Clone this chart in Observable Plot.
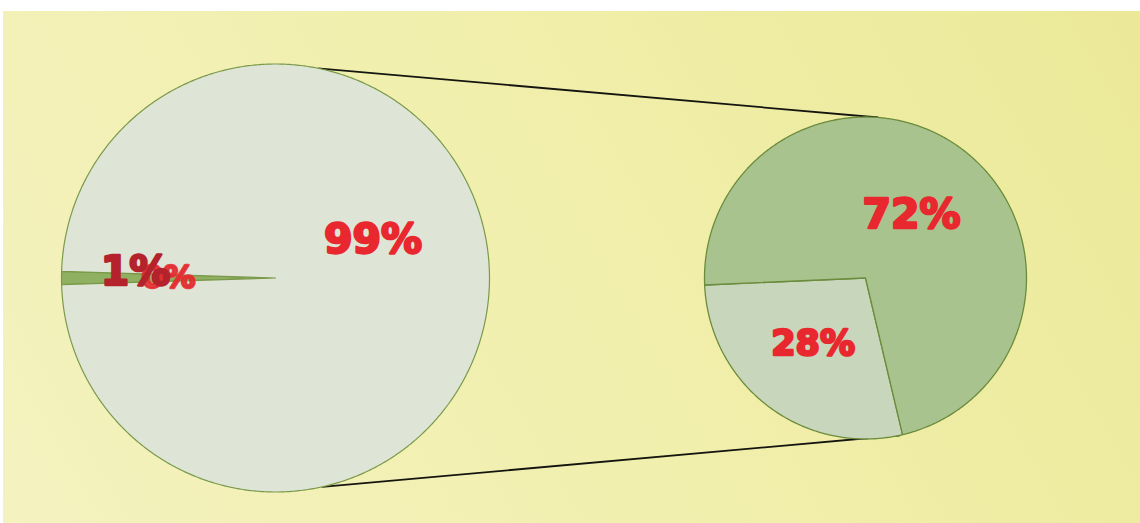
<!DOCTYPE html>
<html><head><meta charset="utf-8">
<script src="https://cdn.jsdelivr.net/npm/d3@7"></script>
<script src="https://cdn.jsdelivr.net/npm/@observablehq/plot@0.6"></script>
<style>
html,body{margin:0;padding:0;background:#fff;}
#chart svg{display:block;}
</style></head><body><div id="chart"></div>
<script>
// ---- data ----
const leftNames = ["Zero", "Small", "Rest"];
const leftValues = [0, 1, 99];
const leftLabels = ["0%", "1%", "99%"];
const rightNames = ["Part B", "Part A"];
const rightValues = [28, 72];
const rightLabels = ["28%", "72%"];

// ---- layout (positions / styles) ----
const W = 1140, H = 523;
const deg = Math.PI / 180;
const pies = {
  left: {cx: 275, cy: 277.5, r: 214, start: 268.2,
         fills: ["#8fb060", "#8fb060", "#dfe5d6"], stroke: "#7a9a4a",
         label: [{frac: 0.5, dAng: 1.8, size: 32, color: "#e52a30", op: 0.88},
                 {frac: 0.655, dAng: 2.5, size: 41, color: "#b4232b", op: 1},
                 {frac: 0.49, dAng: -21.4, size: 41, color: "#e8282e", op: 1}]},
  right: {cx: 865, cy: 277.5, r: 161, start: 166.7,
          fills: ["#c8d6bb", "#a9c38e"], stroke: "#6b8c3c",
          label: [{frac: 0.52, dAng: 1.6, size: 35, color: "#e8282e", op: 1},
                  {frac: 0.485, dAng: -1, size: 41, color: "#e8282e", op: 1}]}
};
// connector endpoints (d3 angles, clockwise from 12 o'clock)
const connectorAngles = [{l: 11.5, r: 4.6}, {l: 167.4, r: 167.6}];

const pt = (p, a, rr) => ({x: p.cx + rr * Math.sin(a * deg), y: p.cy - rr * Math.cos(a * deg)});

function build(p, names, values, labels) {
  const arcs = d3.pie().sort(null).startAngle(p.start * deg).endAngle((p.start + 360) * deg)(values);
  const poly = [], texts = [];
  arcs.forEach((a, i) => {
    const a0 = a.startAngle / deg, a1 = a.endAngle / deg;
    const mid = (a0 + a1) / 2;
    if (a1 - a0 > 0) {
      const key = names[i];
      poly.push({key, fill: p.fills[i], x: p.cx, y: p.cy});
      const n = Math.max(2, Math.ceil((a1 - a0) / 0.5));
      for (let k = 0; k <= n; k++) {
        const q = pt(p, a0 + (a1 - a0) * k / n, p.r);
        poly.push({key, fill: p.fills[i], x: q.x, y: q.y});
      }
    }
    const L = p.label[i];
    const q = pt(p, mid + L.dAng, p.r * L.frac);
    texts.push({text: labels[i], x: q.x, y: q.y, ...L});
  });
  return {poly, texts};
}

const left = build(pies.left, leftNames, leftValues, leftLabels);
const right = build(pies.right, rightNames, rightValues, rightLabels);

const connectors = connectorAngles.map(c => {
  const a = pt(pies.left, c.l, pies.left.r), b = pt(pies.right, c.r, pies.right.r);
  return {x1: a.x, y1: a.y, x2: b.x, y2: b.y};
});

const textMarks = [...left.texts, ...right.texts].map(t =>
  Plot.text([t], {x: "x", y: "y", text: "text", fill: t.color, fillOpacity: t.op,
    stroke: t.color, strokeOpacity: t.op, strokeWidth: 2.4, strokeLinejoin: "round",
    fontSize: t.size, fontWeight: "bold", fontFamily: "DejaVu Sans", textAnchor: "middle"}));

const chart = Plot.plot({
  width: W, height: H, margin: 0,
  x: {domain: [0, W], range: [0, W], axis: null},
  y: {domain: [0, H], range: [0, H], axis: null},
  color: {type: "identity"},
  style: {background: "linear-gradient(60deg, #f4f2bf 0%, #f1efac 50%, #ebe998 100%) 3px 11px / 1137px 512px no-repeat, #ffffff"},
  marks: [
    Plot.link(connectors, {x1: "x1", y1: "y1", x2: "x2", y2: "y2", stroke: "#151510", strokeWidth: 1.8}),
    Plot.line(left.poly, {x: "x", y: "y", z: "key", fill: "fill", stroke: pies.left.stroke, strokeWidth: 1.2, curve: "linear-closed"}),
    Plot.line(right.poly, {x: "x", y: "y", z: "key", fill: "fill", stroke: pies.right.stroke, strokeWidth: 1.3, curve: "linear-closed"}),
    ...textMarks
  ]
});
document.getElementById("chart").appendChild(chart);
</script></body></html>
